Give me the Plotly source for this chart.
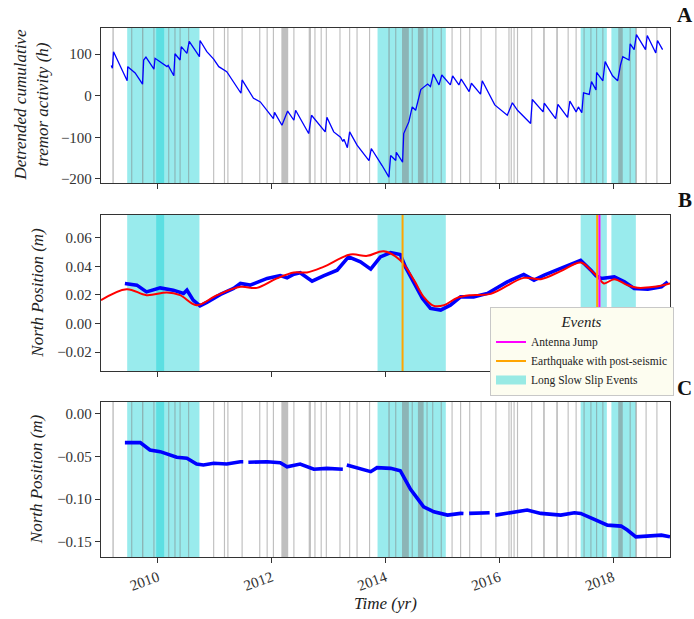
import plotly.graph_objects as go

# ---------------- data ----------------
# Panel A: detrended cumulative tremor activity (h)
tremor_year = [2009.18, 2009.20, 2009.22, 2009.46, 2009.47, 2009.60, 2009.73, 2009.75, 2009.79, 2009.93,
               2009.95, 2010.16, 2010.18, 2010.28, 2010.30, 2010.39, 2010.41, 2010.51, 2010.55, 2010.73,
               2010.74, 2010.86, 2010.98, 2011.07, 2011.21, 2011.46, 2011.48, 2011.68, 2011.80, 2012.03,
               2012.05, 2012.18, 2012.28, 2012.39, 2012.42, 2012.65, 2012.70, 2012.94, 2012.97, 2013.09,
               2013.21, 2013.25, 2013.27, 2013.33, 2013.37, 2013.50, 2013.71, 2013.75, 2013.94, 2014.06,
               2014.09, 2014.18, 2014.19, 2014.30, 2014.32, 2014.41, 2014.47, 2014.53, 2014.62, 2014.74,
               2014.79, 2014.84, 2014.94, 2014.99, 2015.14, 2015.18, 2015.29, 2015.33, 2015.47, 2015.51,
               2015.67, 2015.70, 2015.92, 2016.14, 2016.23, 2016.32, 2016.55, 2016.58, 2016.77, 2016.79,
               2016.99, 2017.03, 2017.20, 2017.24, 2017.35, 2017.39, 2017.45, 2017.48, 2017.58, 2017.62,
               2017.70, 2017.71, 2017.82, 2017.86, 2017.99, 2018.08, 2018.13, 2018.17, 2018.28, 2018.30,
               2018.37, 2018.41, 2018.57, 2018.60, 2018.75, 2018.78, 2018.87]
tremor_hours = [73, 66, 106, 36, 70, 55, 28, 86, 93, 64,
                90, 70, 73, 48, 101, 86, 118, 102, 131, 94,
                133, 106, 88, 70, 58, 6, 38, -6, -15, -55,
                -40, -71, -37, -59, -35, -91, -47, -87, -52, -87,
                -100, -110, -105, -125, -87, -119, -156, -127, -168, -196,
                -144, -156, -136, -160, -91, -63, -27, -35, 15, 28,
                22, 52, 26, 50, 26, 48, 26, 40, 10, 30,
                4, 36, -22, -47, -17, -35, -67, -9, -39, -18,
                -55, -21, -52, -13, -39, -27, -41, 7, 3, 34,
                14, 56, 36, 82, 48, 36, 74, 94, 86, 125,
                111, 147, 111, 145, 103, 133, 111]

# Panel B: GPS north position and model (m)
gps_b_year = [2009.42, 2009.63, 2009.80, 2010.04, 2010.27, 2010.45, 2010.51, 2010.62, 2010.74, 2010.86,
              2011.10, 2011.33, 2011.45, 2011.62, 2011.92, 2012.15, 2012.27, 2012.39, 2012.50, 2012.71,
              2012.91, 2013.15, 2013.35, 2013.56, 2013.74, 2013.91, 2014.09, 2014.26, 2014.35, 2014.50,
              2014.65, 2014.79, 2014.97, 2015.14, 2015.32, 2015.55, 2015.79, 2016.14, 2016.43, 2016.61,
              2016.79, 2017.08, 2017.37, 2017.43, 2017.61, 2017.70, 2017.79, 2018.02, 2018.20, 2018.37,
              2018.61, 2018.85, 2018.96]
gps_b_north = [0.0280, 0.0268, 0.0221, 0.0249, 0.0233, 0.0210, 0.0233, 0.0163, 0.0123, 0.0147,
               0.0203, 0.0245, 0.0280, 0.0268, 0.0315, 0.0335, 0.0320, 0.0345, 0.0355, 0.0296,
               0.0333, 0.0373, 0.0466, 0.0431, 0.0380, 0.0466, 0.0496, 0.0482, 0.0396, 0.0280,
               0.0175, 0.0105, 0.0093, 0.0128, 0.0186, 0.0186, 0.0210, 0.0291, 0.0343, 0.0303,
               0.0338, 0.0385, 0.0431, 0.0442, 0.0373, 0.0333, 0.0315, 0.0326, 0.0291, 0.0245,
               0.0240, 0.0256, 0.0291]
model_b_year = [2009.0, 2009.45, 2009.80, 2010.16, 2010.39, 2010.68, 2011.04, 2011.45, 2011.74, 2012.09,
                2012.39, 2012.62, 2012.91, 2013.38, 2013.68, 2013.97, 2014.26, 2014.50, 2014.67, 2014.85,
                2015.03, 2015.26, 2015.50, 2015.85, 2016.43, 2016.73, 2017.08, 2017.43, 2017.61, 2017.73,
                2017.84, 2018.02, 2018.25, 2018.43, 2018.72, 2019.0]
model_b_north = [0.0163, 0.0240, 0.0198, 0.0217, 0.0198, 0.0128, 0.0198, 0.0256, 0.0249, 0.0315,
                 0.0357, 0.0357, 0.0396, 0.0482, 0.0473, 0.0505, 0.0442, 0.0303, 0.0186, 0.0123,
                 0.0128, 0.0179, 0.0198, 0.0207, 0.0319, 0.0310, 0.0366, 0.0426, 0.0373, 0.0326,
                 0.0280, 0.0310, 0.0268, 0.0249, 0.0256, 0.0280]

# Panel C: GPS north position (m), None = data gap
gps_c_year = [2009.42, 2009.69, 2009.86, 2010.04, 2010.33, 2010.51, 2010.68, 2010.80, 2010.98, 2011.21,
              2011.45, 2011.50, None, 2011.59, 2011.92, 2012.15, 2012.27, 2012.50, 2012.74, 2012.97,
              2013.21, 2013.25, None, 2013.32, 2013.56, 2013.74, 2013.85, 2014.09, 2014.26, 2014.32,
              2014.44, 2014.56, 2014.67, 2014.85, 2015.09, 2015.32, 2015.37, None, 2015.47, 2015.79,
              2015.83, None, 2015.93, 2016.26, 2016.49, 2016.73, 2017.08, 2017.32, 2017.43, 2017.67,
              2017.90, 2018.14, 2018.25, 2018.40, 2018.61, 2018.85, 2019.0]
gps_c_north = [-0.0337, -0.0337, -0.0423, -0.0443, -0.0509, -0.0521, -0.0588, -0.0600, -0.0580, -0.0588,
               -0.0561, -0.0561, None, -0.0568, -0.0561, -0.0573, -0.0620, -0.0588, -0.0650, -0.0639,
               -0.0650, -0.0650, None, -0.0600, -0.0639, -0.0678, -0.0631, -0.0639, -0.0667, -0.0737,
               -0.0886, -0.0992, -0.1090, -0.1149, -0.1188, -0.1168, -0.1170, None, -0.1168, -0.1160,
               -0.1160, None, -0.1188, -0.1149, -0.1129, -0.1168, -0.1188, -0.1160, -0.1168, -0.1239,
               -0.1306, -0.1317, -0.1364, -0.1443, -0.1435, -0.1423, -0.1443]

# Events
sse_start = [2009.46, 2009.97, 2013.86, 2017.43, 2017.97]
sse_end = [2010.11, 2010.73, 2015.06, 2017.89, 2018.40]
tremor_start = [2009.20, 2009.53, 2009.72, 2009.92, 2010.18, 2010.29, 2010.38, 2010.53, 2010.97, 2011.16,
                2011.22, 2011.47, 2011.78, 2011.91, 2012.02, 2012.17, 2012.38, 2012.65, 2012.75, 2012.86,
                2012.95, 2013.19, 2013.36, 2013.49, 2013.71, 2014.05, 2014.17, 2014.29, 2014.46, 2014.57,
                2014.72, 2014.82, 2014.97, 2015.16, 2015.31, 2015.47, 2015.67, 2015.93, 2016.16, 2016.20,
                2016.25, 2016.31, 2016.56, 2016.77, 2017.00, 2017.20, 2017.34, 2017.48, 2017.60, 2017.70,
                2017.81, 2018.09, 2018.29, 2018.39, 2018.57, 2018.76]
tremor_end = [2009.225, 2009.55, 2009.745, 2009.94, 2010.20, 2010.31, 2010.40, 2010.55, 2010.99, 2011.18,
              2011.24, 2011.49, 2011.80, 2011.93, 2012.04, 2012.29, 2012.40, 2012.69, 2012.77, 2012.88,
              2012.97, 2013.21, 2013.38, 2013.51, 2013.73, 2014.075, 2014.19, 2014.41, 2014.48, 2014.67,
              2014.74, 2014.84, 2014.99, 2015.18, 2015.33, 2015.49, 2015.69, 2015.95, 2016.18, 2016.22,
              2016.27, 2016.33, 2016.58, 2016.80, 2017.03, 2017.22, 2017.36, 2017.50, 2017.62, 2017.72,
              2017.83, 2018.17, 2018.31, 2018.42, 2018.59, 2018.78]
earthquake_years = [2014.30, 2017.72]
antenna_jump_years = [2017.76]

x_ticks = [2010, 2012, 2014, 2016, 2018]

# ---------------- styles ----------------
SERIF = "Liberation Serif"
CYAN = "rgba(0,206,209,0.4)"
GRAY = "rgba(128,128,128,0.5)"
FRAME = "#333333"

fig = go.Figure()

fig.add_trace(go.Scatter(x=tremor_year, y=tremor_hours, mode="lines",
                         line=dict(color="#0000ff", width=1.3), showlegend=False,
                         xaxis="x", yaxis="y"))
fig.add_trace(go.Scatter(x=gps_b_year, y=gps_b_north, mode="lines",
                         line=dict(color="#0000ff", width=3.6), showlegend=False,
                         xaxis="x2", yaxis="y2"))
fig.add_trace(go.Scatter(x=model_b_year, y=model_b_north, mode="lines", line_shape="spline",
                         line=dict(color="#ff0000", width=2), showlegend=False,
                         xaxis="x2", yaxis="y2"))
fig.add_trace(go.Scatter(x=gps_c_year, y=gps_c_north, mode="lines",
                         line=dict(color="#0000ff", width=3.6), showlegend=False,
                         xaxis="x3", yaxis="y3"))

# legend entries
fig.add_trace(go.Scatter(x=[None], y=[None], mode="lines", name="Antenna Jump",
                         line=dict(color="#ff00ff", width=2), xaxis="x2", yaxis="y2"))
fig.add_trace(go.Scatter(x=[None], y=[None], mode="lines", name="Earthquake with post-seismic",
                         line=dict(color="#ffa500", width=2), xaxis="x2", yaxis="y2"))
fig.add_trace(go.Scatter(x=[None], y=[None], mode="lines", name="Long Slow Slip Events",
                         line=dict(color=CYAN, width=9), xaxis="x2", yaxis="y2"))

shapes = []
for xr, yr in [("x", "y domain"), ("x2", "y2 domain"), ("x3", "y3 domain")]:
    for s, e in zip(sse_start, sse_end):
        shapes.append(dict(type="rect", xref=xr, yref=yr, x0=s, x1=e, y0=0, y1=1,
                           fillcolor=CYAN, line=dict(width=0), layer="below"))
for xr, yr in [("x", "y domain"), ("x3", "y3 domain")]:
    for s, e in zip(tremor_start, tremor_end):
        shapes.append(dict(type="rect", xref=xr, yref=yr, x0=s, x1=e, y0=0, y1=1,
                           fillcolor=GRAY, line=dict(width=0), layer="below"))
for q in earthquake_years:
    shapes.append(dict(type="line", xref="x2", yref="y2 domain", x0=q, x1=q, y0=0, y1=1,
                       line=dict(color="#ffa500", width=2), layer="above"))
for a in antenna_jump_years:
    shapes.append(dict(type="line", xref="x2", yref="y2 domain", x0=a, x1=a, y0=0, y1=1,
                       line=dict(color="#ff00ff", width=2), layer="above"))
# legend drop shadow (matplotlib-style)
shapes.append(dict(type="rect", xref="paper", yref="paper", x0=0.6889, x1=1.0018,
                   y0=0.3497, y1=0.4650, fillcolor="rgba(0,0,0,0.28)",
                   line=dict(width=0), layer="above"))

axis_common = dict(showline=True, mirror=True, linecolor=FRAME, linewidth=1.3,
                   ticks="outside", ticklen=5, tickwidth=1, tickcolor=FRAME,
                   showgrid=False, zeroline=False,
                   tickfont=dict(family=SERIF, size=15, color="#333333"))

dom_a = [0.707, 1.0]
dom_b = [0.3516, 0.6465]
dom_c = [0.0, 0.293]

fig.update_layout(
    width=694, height=619,
    margin=dict(l=101, r=24, t=28, b=62),
    plot_bgcolor="white", paper_bgcolor="white",
    shapes=shapes,
    xaxis=dict(axis_common, domain=[0, 1], anchor="y", range=[2009, 2019],
               tickvals=x_ticks, showticklabels=False),
    xaxis2=dict(axis_common, domain=[0, 1], anchor="y2", range=[2009, 2019],
                tickvals=x_ticks, showticklabels=False, matches="x"),
    xaxis3=dict(axis_common, domain=[0, 1], anchor="y3", range=[2009, 2019],
                tickvals=x_ticks, tickangle=-20, matches="x"),
    yaxis=dict(axis_common, domain=dom_a, anchor="x", range=[-210, 163],
               tickvals=[-200, -100, 0, 100]),
    yaxis2=dict(axis_common, domain=dom_b, anchor="x2", range=[-0.0333, 0.0759],
                tickvals=[-0.02, 0.0, 0.02, 0.04, 0.06], tickformat=".2f"),
    yaxis3=dict(axis_common, domain=dom_c, anchor="x3", range=[-0.168, 0.014],
                tickvals=[-0.15, -0.10, -0.05, 0.0], tickformat=".2f"),
    legend=dict(x=0.6837, y=0.4726, xanchor="left", yanchor="top",
                bgcolor="#fdfdf0", bordercolor="#c8c8c8", borderwidth=1,
                font=dict(family=SERIF, size=11.5, color="#222222"),
                title=dict(text="<i>Events</i>", side="top center",
                           font=dict(family=SERIF, size=15, color="#222222")),
                tracegroupgap=0, itemwidth=30),
    showlegend=True,
)

title_font = dict(family=SERIF, size=17, color="#222222")
ann = [
    dict(text="<i>Detrended cumulative</i><br><i>tremor activity (h)</i>", x=-0.123,
         y=sum(dom_a) / 2, textangle=-90),
    dict(text="<i>North Position (m)</i>", x=-0.113, y=sum(dom_b) / 2, textangle=-90),
    dict(text="<i>North Position (m)</i>", x=-0.113, y=sum(dom_c) / 2, textangle=-90),
    dict(text="<i>Time (yr)</i>", x=0.5, y=-0.087, textangle=0),
]
for a in ann:
    fig.add_annotation(xref="paper", yref="paper", showarrow=False, xanchor="center",
                       yanchor="middle", font=title_font, **a)
for lab, yy in [("A", 1.0246), ("B", 0.675), ("C", 0.3195)]:
    fig.add_annotation(text="<b>%s</b>" % lab, xref="paper", yref="paper", x=1.026, y=yy,
                       showarrow=False, xanchor="center", yanchor="middle",
                       font=dict(family=SERIF, size=21, color="#111111"))

fig.write_html("out.html")
